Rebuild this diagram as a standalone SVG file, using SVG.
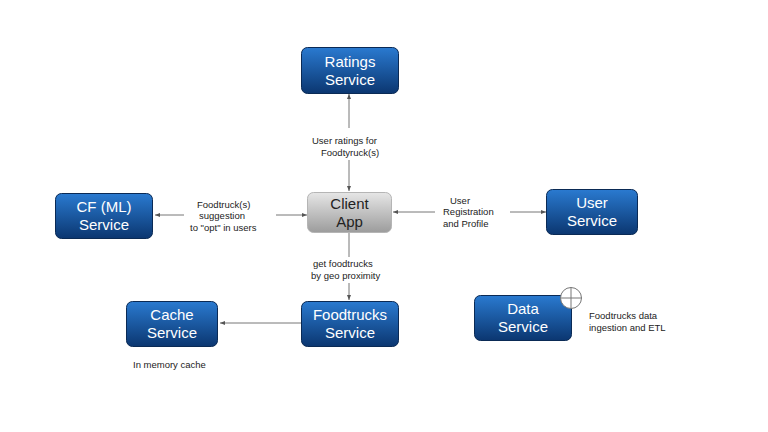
<svg xmlns="http://www.w3.org/2000/svg" width="768" height="432" viewBox="0 0 768 432">
<defs>
<linearGradient id="blue" x1="0" y1="0" x2="0" y2="1">
<stop offset="0" stop-color="#2a7ad0"/>
<stop offset="1" stop-color="#0b3670"/>
</linearGradient>
<linearGradient id="gray" x1="0" y1="0" x2="0" y2="1">
<stop offset="0" stop-color="#e6e6e6"/>
<stop offset="1" stop-color="#9c9c9c"/>
</linearGradient>
<marker id="arr" viewBox="0 0 10 10" refX="10" refY="5" markerWidth="5" markerHeight="5" orient="auto-start-reverse" markerUnits="userSpaceOnUse">
<path d="M0,1 L10,5 L0,9 z" fill="#555"/>
</marker>
<style>
.svc{fill:url(#blue);stroke:#0a2a55;stroke-width:1}
.cli{fill:url(#gray);stroke:#b5b5b5;stroke-width:1}
.t{font-family:"Liberation Sans",Arial,sans-serif;font-size:15px;fill:#fff;text-anchor:middle}
.ct{font-family:"Liberation Sans",Arial,sans-serif;font-size:15px;fill:#222;text-anchor:middle}
.l{font-family:"Liberation Sans",Arial,sans-serif;font-size:9.5px;fill:#222}
.c{stroke:#777;stroke-width:1;fill:none}
</style>
</defs>
<rect width="768" height="432" fill="#fff"/>
<g id="connectors">
<line class="c" x1="349" y1="128" x2="349" y2="94" marker-end="url(#arr)"/>
<line class="c" x1="349" y1="160" x2="349" y2="191" marker-end="url(#arr)"/>
<line class="c" x1="184" y1="215" x2="155" y2="215" marker-end="url(#arr)"/>
<line class="c" x1="276" y1="215" x2="307" y2="215" marker-end="url(#arr)"/>
<line class="c" x1="435" y1="212" x2="393" y2="212" marker-end="url(#arr)"/>
<line class="c" x1="510" y1="212" x2="546" y2="212" marker-end="url(#arr)"/>
<line class="c" x1="349" y1="233" x2="349" y2="257"/>
<line class="c" x1="349" y1="283" x2="349" y2="300" marker-end="url(#arr)"/>
<line class="c" x1="301" y1="323" x2="220" y2="323" marker-end="url(#arr)"/>
</g>
<g id="labels">
<text class="l" x="312" y="144">User ratings for</text>
<text class="l" x="321" y="156">Foodtyruck(s)</text>
<text class="l" x="197" y="208">Foodtruck(s)</text>
<text class="l" x="199" y="219">suggestion</text>
<text class="l" x="190" y="231">to "opt" in users</text>
<text class="l" x="450" y="204">User</text>
<text class="l" x="443" y="215">Registration</text>
<text class="l" x="443" y="227">and Profile</text>
<text class="l" x="313" y="267">get foodtrucks</text>
<text class="l" x="311" y="279">by geo proximity</text>
<text class="l" x="133" y="368">In memory cache</text>
<text class="l" x="589" y="319">Foodtrucks data</text>
<text class="l" x="589" y="331">ingestion and ETL</text>
</g>
<g id="ratings">
<rect class="svc" x="301.5" y="47.5" width="97" height="46" rx="6"/>
<text class="t" x="350" y="67">Ratings</text>
<text class="t" x="350" y="85">Service</text>
</g>
<g id="client">
<rect class="cli" x="307.5" y="192.5" width="84" height="40" rx="6"/>
<text class="ct" x="349.5" y="209">Client</text>
<text class="ct" x="349.5" y="227">App</text>
</g>
<g id="cf">
<rect class="svc" x="55.5" y="193.5" width="97" height="45" rx="6"/>
<text class="t" x="104" y="212">CF (ML)</text>
<text class="t" x="104" y="230">Service</text>
</g>
<g id="user">
<rect class="svc" x="546.5" y="189.5" width="91" height="45" rx="6"/>
<text class="t" x="592" y="208">User</text>
<text class="t" x="592" y="226">Service</text>
</g>
<g id="cache">
<rect class="svc" x="126.5" y="301.5" width="91" height="45" rx="6"/>
<text class="t" x="172" y="320">Cache</text>
<text class="t" x="172" y="338">Service</text>
</g>
<g id="foodtrucks">
<rect class="svc" x="301.5" y="301.5" width="97" height="45" rx="6"/>
<text class="t" x="350" y="320">Foodtrucks</text>
<text class="t" x="350" y="338">Service</text>
</g>
<g id="data">
<rect class="svc" x="474.5" y="295.5" width="97" height="45" rx="6"/>
<text class="t" x="523" y="314">Data</text>
<text class="t" x="523" y="332">Service</text>
<circle cx="571" cy="298" r="10.5" fill="#fff" stroke="#777" stroke-width="1"/>
<line x1="560.5" y1="298" x2="581.5" y2="298" stroke="#777" stroke-width="1"/>
<line x1="571" y1="287.5" x2="571" y2="308.5" stroke="#777" stroke-width="1"/>
</g>
</svg>
